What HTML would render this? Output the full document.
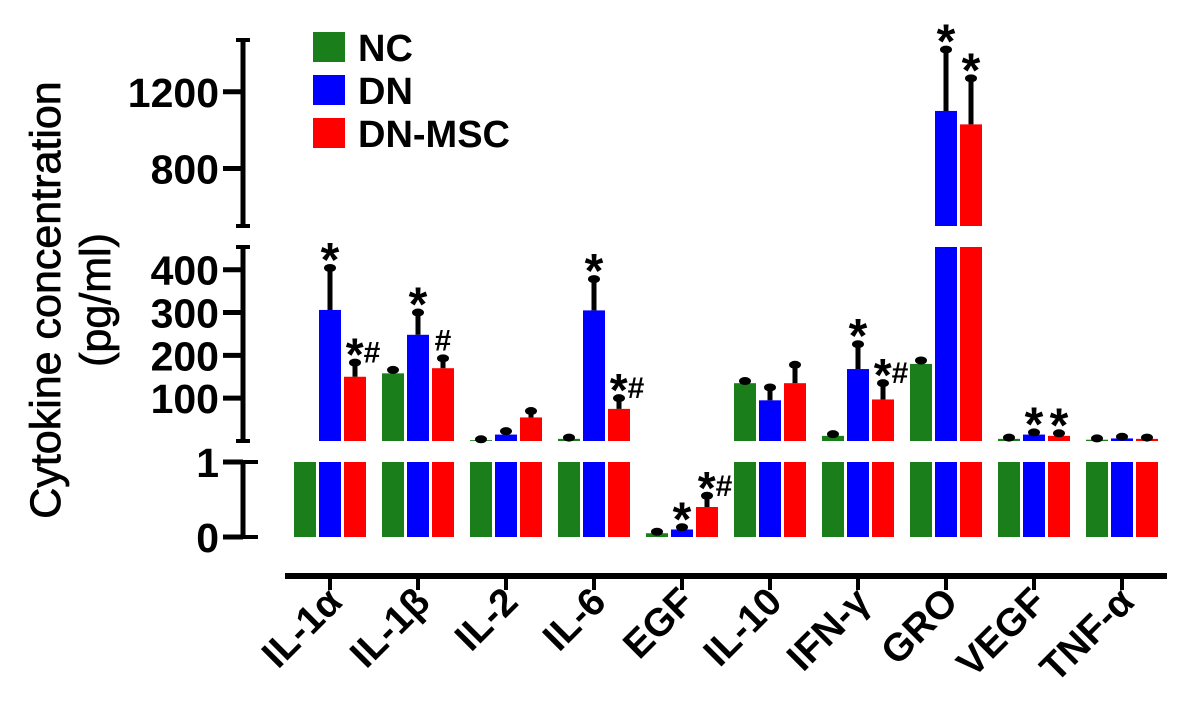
<!DOCTYPE html>
<html><head><meta charset="utf-8"><style>
html,body{margin:0;padding:0;background:#fff;}
svg{display:block;font-family:"Liberation Sans",Arial,sans-serif;font-weight:bold;}
</style></head><body>
<svg id="chart" width="1181" height="722" viewBox="0 0 1181 722">
<g id="axes"></g>
<g id="bars"></g>
<g id="legend">
  <rect x="313" y="32" width="32" height="30" fill="#1a7f1a"/>
  <text x="358" y="61" font-size="38">NC</text>
  <rect x="313" y="75" width="32" height="30" fill="#0000ff"/>
  <text x="358" y="104" font-size="38">DN</text>
  <rect x="313" y="118" width="32" height="30" fill="#ff0000"/>
  <text x="358" y="147" font-size="38">DN-MSC</text>
</g>
<g>
  <text transform="translate(60,300) rotate(-90)" text-anchor="middle" font-size="43" font-weight="normal" stroke="#000" stroke-width="0.8">Cytokine concentration</text>
  <text transform="translate(110,300) rotate(-90)" text-anchor="middle" font-size="43" font-weight="normal" stroke="#000" stroke-width="0.8">(pg/ml)</text>
</g>
</svg>
<script>
const categories = ["IL-1α","IL-1β","IL-2","IL-6","EGF","IL-10","IFN-γ","GRO","VEGF","TNF-α"];
const seriesNames = ["NC","DN","DN-MSC"];
const ncValues  = [1, 158, 2, 5, 0.05, 135, 12, 180, 5, 3];
const ncErrors  = [0, 8, 2, 3, 0.02, 5, 4, 8, 3, 3];
const dnValues  = [306, 248, 15, 305, 0.1, 95, 168, 1100, 15, 6];
const dnErrors  = [98, 52, 8, 73, 0.03, 30, 58, 320, 5, 4];
const mscValues = [150, 170, 55, 75, 0.4, 135, 97, 1030, 12, 5];
const mscErrors = [33, 23, 15, 25, 0.15, 43, 38, 240, 6, 3];
const ncMarks  = ["","","","","","","","","",""];
const dnMarks  = ["*","*","","*","*","","*","*","*",""];
const mscMarks = ["*#","#","","*#","*#","","*#","*","*",""];
const lowTicks = [0, 1];
const midTicks = [100, 200, 300, 400];
const topTicks = [800, 1200];

const NS = "http://www.w3.org/2000/svg";
const colors = ["#1a7f1a","#0000ff","#ff0000"];
const axisX = 243;
const segLow = {v0:0, v1:1, y0:537, y1:462};
const segMid = {v0:0, v1:453, y0:441, y1:247};
const segTop = {v0:500, v1:1470, y0:226, y1:40};
function ys(seg, v){ return seg.y0 + (v - seg.v0) * (seg.y1 - seg.y0) / (seg.v1 - seg.v0); }
function xc(i, s){ return 305 + i*88 + s*25; }
const barW = 22;
function mk(tag, attrs, parent){ const e=document.createElementNS(NS,tag); for(const k in attrs) e.setAttribute(k, attrs[k]); parent.appendChild(e); return e; }

const axesG = document.getElementById('axes');
const barsG = document.getElementById('bars');
[[segLow,462,537],[segMid,247,441],[segTop,40,226]].forEach(([seg,a,b],k)=>{
  const l = mk('line',{x1:axisX,x2:axisX,y1:a,y2:b,stroke:'#000','stroke-width':5},axesG);
  
  
  if(k>0){
    mk('line',{x1:axisX-7,x2:axisX+7,y1:a,y2:a,stroke:'#000','stroke-width':4},axesG);
    mk('line',{x1:axisX-7,x2:axisX+7,y1:b,y2:b,stroke:'#000','stroke-width':4},axesG);
  }
});
function tick(seg, v, name){
  const y = ys(seg, v);
  mk('line',{x1:axisX-20,x2:axisX,y1:y,y2:y,stroke:'#000','stroke-width':5},axesG);
  const t = mk('text',{x:axisX-24,y:y+15,'text-anchor':'end','font-size':41},axesG);
  t.textContent = v;
  
  
}
lowTicks.forEach(v=>tick(segLow,v,'y-tick-'+v));
midTicks.forEach(v=>tick(segMid,v,'y-tick-'+v));
topTicks.forEach(v=>tick(segTop,v,'y-tick-'+v));
mk('line',{x1:axisX,x2:axisX+15,y1:462,y2:462,stroke:'#000','stroke-width':4},axesG);
mk('line',{x1:axisX,x2:axisX+15,y1:537,y2:537,stroke:'#000','stroke-width':4},axesG);
const xl = mk('line',{x1:285,x2:1167,y1:576,y2:576,stroke:'#000','stroke-width':6},axesG);


categories.forEach((c,i)=>{
  const x = xc(i,1);
  mk('line',{x1:x,x2:x,y1:576,y2:590,stroke:'#000','stroke-width':4},axesG);
  const t = mk('text',{transform:`translate(${x+14},${604}) rotate(-45)`,'text-anchor':'end','font-size':39},axesG);
  t.textContent = c;
  
  
});

const vals=[ncValues,dnValues,mscValues], errs=[ncErrors,dnErrors,mscErrors], marks=[ncMarks,dnMarks,mscMarks];
categories.forEach((c,i)=>{
  for(let s=0;s<3;s++){
    const v = vals[s][i], e = errs[s][i];
    const x = xc(i,s)-barW/2;
    const g = mk('g',{},barsG);
    
    
    const lv = Math.min(v,1);
    mk('rect',{x:x,y:ys(segLow,lv),width:barW,height:ys(segLow,0)-ys(segLow,lv),fill:colors[s]},g);
    let topY;
    if(v>1){
      const mv = Math.min(v,segMid.v1);
      mk('rect',{x:x,y:ys(segMid,mv),width:barW,height:ys(segMid,0)-ys(segMid,mv),fill:colors[s]},g);
      topY = ys(segMid,mv);
      if(v>segTop.v0){
        mk('rect',{x:x,y:ys(segTop,v),width:barW,height:ys(segTop,segTop.v0)-ys(segTop,v),fill:colors[s]},g);
        topY = ys(segTop,v);
      }
    } else topY = ys(segLow,v);
    const ve = v+e;
    let ey;
    if(v>segTop.v0) ey = ys(segTop,ve); else if(v>1) ey = ys(segMid,ve); else ey = ys(segLow,ve);
    const cx = xc(i,s);
    if(e>0){
      mk('line',{x1:cx,x2:cx,y1:topY,y2:ey,stroke:'#000','stroke-width':5},g);
      mk('ellipse',{cx:cx,cy:ey,rx:6,ry:4,fill:'#000'},g);
    }
    if(marks[s][i]){
      const t = mk('text',{'text-anchor':'middle','font-weight':'bold'},g);
      if(marks[s][i].length>1){
        t.innerHTML = '<tspan font-size="46">*</tspan><tspan font-size="30" dy="-8">#</tspan>';
        t.setAttribute('y', ey+8);
        t.setAttribute('x', cx+8);
      } else {
        t.textContent = marks[s][i];
        t.setAttribute('y', ey+(marks[s][i]==='#'?-8:8));
        t.setAttribute('x', cx);
        t.setAttribute('font-size', marks[s][i]==='#'?30:48);
      }
      
      
    }
  }
});
</script>
</body></html>
